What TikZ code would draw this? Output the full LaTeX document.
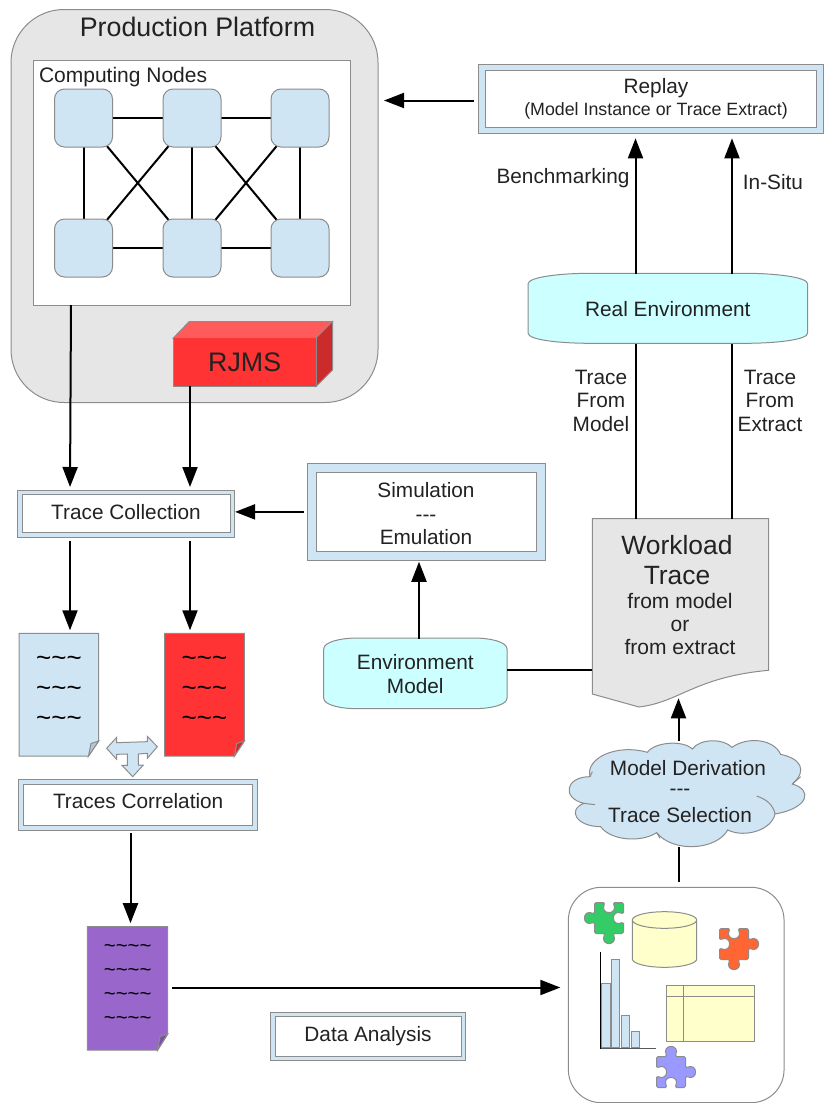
\documentclass[tikz,border=0pt]{standalone}
\usepackage{fontspec}
\setmainfont{Liberation Sans}
\usetikzlibrary{arrows.meta,calc}
\definecolor{lightbl}{HTML}{CFE5F3}
\definecolor{cyanfill}{HTML}{CCFFFF}
\definecolor{greyfill}{HTML}{E6E6E6}
\definecolor{edgegrey}{HTML}{8C8C8C}
\definecolor{redfill}{HTML}{FF3333}
\definecolor{redtop}{HTML}{FF5B5B}
\definecolor{redside}{HTML}{CC2B2B}
\definecolor{purplefill}{HTML}{9966CC}
\definecolor{paleyellow}{HTML}{FFFFCC}
\definecolor{ink}{HTML}{222222}
\definecolor{piecegreen}{HTML}{33CC66}
\definecolor{pieceorange}{HTML}{FF6633}
\definecolor{piecepurple}{HTML}{9999FF}
\pgfdeclarelayer{bg}
\pgfsetlayers{bg,main}
\tikzset{
  box/.style={rectangle,inner sep=0pt,outer sep=0pt,draw=edgegrey,line width=1pt},
  outerframe/.style={box,fill=lightbl},
  innerframe/.style={box,fill=white,text=ink,align=center,font=\fontsize{20.8}{23.5}\selectfont},
  cn/.style={box,fill=lightbl,rounded corners=10pt,minimum width=58pt,minimum height=58pt},
  ghost/.style={rectangle,inner sep=0pt,outer sep=0pt},
  shapeline/.style={draw=edgegrey,line width=1pt},
  label/.style={inner sep=0pt,outer sep=0pt,text=ink,align=center,yshift=-1.4pt,font=\fontsize{20.8}{23.5}\selectfont},
  conn/.style={line width=2pt,draw=black},
  arr/.style={conn,-{Triangle[length=20pt,width=15pt]}},
  tildes/.style={inner sep=0pt,outer sep=0pt,text=black,align=center,yshift=-3pt},
}
\newcommand\tld{\textasciitilde}
\newcommand\puzzlepiece[7]{%
  \begin{scope}[shift={(#1,#2)}]
  \filldraw[shapeline,fill=#3,rounded corners=1.5pt]
    (-14.5,-15.5) -- (-4,-15.5)
    .. controls (-10,{-15.5-(#4)*13}) and (10,{-15.5-(#4)*13}) .. (4,-15.5)
    -- (14.5,-15.5) -- (14.5,-4)
    .. controls ({14.5+(#5)*13},-10) and ({14.5+(#5)*13},10) .. (14.5,4)
    -- (14.5,15.5) -- (4,15.5)
    .. controls (10,{15.5+(#6)*13}) and (-10,{15.5+(#6)*13}) .. (-4,15.5)
    -- (-14.5,15.5) -- (-14.5,4)
    .. controls ({-14.5-(#7)*13},10) and ({-14.5-(#7)*13},-10) .. (-14.5,-4)
    -- cycle;
  \end{scope}}
\begin{document}
\begin{tikzpicture}[x=1pt,y=-1pt]
\useasboundingbox (0,0) rectangle (825,1103);
% column helpers
\coordinate (colAa) at (71,0);
\coordinate (colA) at (70,0);
\coordinate (colB) at (190,0);
\coordinate (colC) at (635.5,0);
\coordinate (colD) at (732,0);
\coordinate (colE) at (419,0);
\coordinate (colF) at (130.5,0);
\coordinate (colG) at (678.5,0);
\coordinate (rowR) at (0,100.5);
\coordinate (rowP) at (0,987.5);
% platform
\begin{pgfonlayer}{bg}
\node[box,fill=greyfill,rounded corners=53pt,minimum width=367pt,minimum height=393pt] (platform) at (194.5,206) {};
\node[box,fill=white,minimum width=317pt,minimum height=245pt] (cnbox) at (191.5,182.5) {};
\end{pgfonlayer}
\node[label,font=\fontsize{26.8}{30}\selectfont] (pptitle) at (197.5,26) {Production Platform};
\node[label,anchor=west,font=\fontsize{21}{24}\selectfont] (cntitle) at (39,76) {Computing Nodes};
\node[cn] (n1) at (83.5,118) {};
\node[cn] (n2) at (192,118) {};
\node[cn] (n3) at (300,118) {};
\node[cn] (n4) at (83.5,248) {};
\node[cn] (n5) at (192,248) {};
\node[cn] (n6) at (300,248) {};
\begin{pgfonlayer}{bg}
\foreach \a/\b in {n1/n2,n2/n3,n4/n5,n5/n6,n1/n4,n2/n5,n3/n6,n1/n5,n2/n4,n2/n6,n3/n5}
  \draw[conn] (\a.center) -- (\b.center);
\end{pgfonlayer}
% RJMS
\filldraw[shapeline,fill=redtop] (173.3,338) -- (189.3,321.5) -- (332.5,321.5) -- (316,338) -- cycle;
\filldraw[shapeline,fill=redside] (316,338) -- (332.5,321.5) -- (332.5,370) -- (316,386.5) -- cycle;
\node[box,fill=redfill,text=ink,minimum width=142.7pt,minimum height=48.5pt,font=\fontsize{26.8}{30}\selectfont] (rjms) at (244.7,362.2) {RJMS};
% Trace collection
\node[outerframe,minimum width=216.5pt,minimum height=47pt] (tcouter) at (125.8,513.5) {};
\node[innerframe,minimum width=208pt,minimum height=37.5pt] (tc) at (126,513.5) {\raisebox{2.5pt}{Trace Collection}};
% Simulation
\node[outerframe,minimum width=237.3pt,minimum height=96.3pt] (simouter) at (426.4,511.9) {};
\node[innerframe,minimum width=219.5pt,minimum height=79pt] (sim) at (426.3,512) {};
\node[label] (simtxt) at (426,512.5) {Simulation\\-{}-{}-\\Emulation};
% Replay
\node[outerframe,minimum width=344.7pt,minimum height=69.3pt] (replayouter) at (650.7,98.7) {};
\node[innerframe,minimum width=331pt,minimum height=57pt] (replay) at (650.5,98.5) {};
\node[label] (replaytxt) at (656,87) {Replay};
\node[label,font=\fontsize{17.8}{20}\selectfont] (replaysub) at (656,109) {(Model Instance or Trace Extract)};
% Real environment
\filldraw[shapeline,fill=cyanfill] (528,284) .. controls (528,277) and (560,273.3) .. (590,273.3) -- (745,273.3) .. controls (775,273.3) and (807.7,277) .. (807.7,284) -- (807.7,333) .. controls (807.7,340) and (775,343.3) .. (745,343.3) -- (590,343.3) .. controls (560,343.3) and (528,340) .. (528,333) -- cycle;
\node[ghost,label,minimum width=279.7pt,minimum height=70pt,yshift=1pt] (realenv) at (667.8,308.3) {Real Environment};
% Environment model
\filldraw[shapeline,fill=cyanfill] (323.7,649) .. controls (323.7,642) and (340,638) .. (358,638) -- (473,638) .. controls (491,638) and (507,642) .. (507,649) -- (507,698) .. controls (507,705) and (491,708.7) .. (473,708.7) -- (358,708.7) .. controls (340,708.7) and (323.7,705) .. (323.7,698) -- cycle;
\node[ghost,label,minimum width=183.3pt,minimum height=70.7pt] (envmodel) at (415.3,672.8) {Environment\\Model};
% Workload
\filldraw[shapeline,fill=greyfill] (592.3,518.7) -- (768.7,518.7) -- (768.7,670.3) .. controls (695,677) and (680,702) .. (639,707) -- (592.3,694) -- cycle;
\node[ghost,minimum width=176.4pt,minimum height=151.6pt] (workload) at (680.5,594.5) {};
\coordinate (workloadtip) at (678.5,698.3);
\node[label,font=\fontsize{26.4}{30.4}\selectfont] (wltitle) at (677,558.5) {Workload\\Trace};
\node[label,font=\fontsize{21}{23}\selectfont] (wlsub) at (680,623) {from model\\or\\from extract};
% Cloud
\begin{scope}[shift={(560,510)},scale=0.33333]
\filldraw[shapeline,fill=lightbl] (90,800) .. controls (75,745) and (170,700) .. (262,727)
  .. controls (285,695) and (370,690) .. (397,717)
  .. controls (420,685) and (490,685) .. (516,712)
  .. controls (560,680) and (640,685) .. (662,733)
  .. controls (720,745) and (745,780) .. (697,822)
  .. controls (760,840) and (745,895) .. (645,912)
  .. controls (635,960) and (555,985) .. (503,960)
  .. controls (470,1020) and (340,1030) .. (290,968)
  .. controls (240,1000) and (150,990) .. (122,950)
  .. controls (50,950) and (20,900) .. (72,880)
  .. controls (5,865) and (15,800) .. (90,800) -- cycle;
\draw[shapeline] (72,880) -- (105,884);
\draw[shapeline] (697,822) -- (722,800);
\draw[shapeline] (590,858) .. controls (620,868) and (640,885) .. (645,912);
\draw[shapeline] (290,968) -- (300,985);
\draw[shapeline] (90,800) -- (97,785);
\end{scope}
\node[ghost,minimum width=239pt,minimum height=106pt] (cloud) at (688,793.5) {};
\node[label] (cloudtxt1) at (688,767) {Model Derivation};
\node[label] (cloudtxt2) at (680,790.5) {-{}-{}-};
\node[label] (cloudtxt3) at (680,814) {Trace Selection};
% Documents
\filldraw[shapeline,fill=lightbl] (19,633.3) -- (98.7,633.3) -- (98.7,741) -- (88.5,756) -- (19,756) -- cycle;
\filldraw[shapeline,fill=lightbl!70!gray] (88.5,756) -- (98.7,741) -- (91,743.5) -- cycle;
\node[ghost,minimum width=79.7pt,minimum height=122.7pt] (doca) at (58.85,694.65) {};
\node[tildes,font=\fontsize{26}{30}\selectfont] (docatxt) at (59,688) {\tld\tld\tld\\\tld\tld\tld\\\tld\tld\tld};
\filldraw[shapeline,fill=redfill] (164.7,633.3) -- (244.3,633.3) -- (244.3,741) -- (234.5,756) -- (164.7,756) -- cycle;
\filldraw[shapeline,fill=redside] (234.5,756) -- (244.3,741) -- (236.7,743.5) -- cycle;
\node[ghost,minimum width=79.6pt,minimum height=122.7pt] (docb) at (204.5,694.65) {};
\node[tildes,font=\fontsize{26}{30}\selectfont] (docbtxt) at (204.5,688) {\tld\tld\tld\\\tld\tld\tld\\\tld\tld\tld};
\filldraw[shapeline,fill=purplefill] (87.3,926.7) -- (167.7,926.7) -- (167.7,1034) -- (157.7,1050) -- (87.3,1050) -- cycle;
\filldraw[shapeline,fill=purplefill!80!black] (157.7,1050) -- (167.7,1034) -- (160,1036.5) -- cycle;
\node[ghost,minimum width=80.4pt,minimum height=123.3pt] (docc) at (127.5,988.35) {};
\node[tildes,font=\fontsize{20.4}{23.7}\selectfont] (docctxt) at (127.7,981.5) {\tld\tld\tld\tld\\\tld\tld\tld\tld\\\tld\tld\tld\tld\\\tld\tld\tld\tld};
% Block arrow
\begin{scope}[shift={(0,620)},scale=0.33333]
\filldraw[shapeline,fill=lightbl] (320,385) -- (350,352) -- (350,368) -- (442,365) -- (442,349) -- (472,380) -- (442,415) -- (442,400) -- (415,402) -- (415,435) -- (430,435) -- (398,470) -- (366,436) -- (382,436) -- (382,402) -- (350,403) -- (350,418) -- cycle;
\end{scope}
% Traces correlation
\node[outerframe,minimum width=238.5pt,minimum height=51pt] (tcoouter) at (138.2,804.5) {};
\node[innerframe,minimum width=228.5pt,minimum height=41pt] (tco) at (138.2,804.5) {\raisebox{7pt}{Traces Correlation}};
% Data analysis
\node[outerframe,minimum width=195pt,minimum height=48.7pt] (daouter) at (368.2,1036.4) {};
\node[innerframe,minimum width=186pt,minimum height=39.7pt] (da) at (368,1036.2) {\raisebox{2pt}{Data Analysis}};
% Analysis box
\node[box,fill=white,rounded corners=33pt,minimum width=215.7pt,minimum height=215.4pt] (analysis) at (676.2,995) {};
\filldraw[shapeline,fill=paleyellow] (632.3,920) -- (632.3,959) arc[start angle=180,end angle=360,x radius=32.2,y radius=-8.3] -- (696.7,920) arc[start angle=0,end angle=180,x radius=32.2,y radius=-8.3] -- cycle;
\draw[shapeline] (632.3,920) arc[start angle=180,end angle=360,x radius=32.2,y radius=-8.3];
\filldraw[shapeline,fill=paleyellow] (666,985) rectangle (754,1041.3);
\draw[shapeline] (666,996) -- (754,996) (683.3,985) -- (683.3,1041.3);
\foreach \xa/\xb/\yt in {601.5/610/983,611/619.7/959.3,621/629.7/1015,631/639.3/1031.3}
  \filldraw[shapeline,fill=lightbl] (\xa,\yt) rectangle (\xb,1047.5);
\draw[line width=1.2pt,draw=black] (600.7,951.7) -- (600.7,1048.5);
\draw[line width=1.5pt,draw=black!65] (600.7,1048.7) -- (656,1048.7);
\puzzlepiece{609}{918}{piecegreen}{-1}{-1}{1}{1}
\puzzlepiece{734}{944}{pieceorange}{-1}{1}{1}{-1}
\puzzlepiece{671}{1072}{piecepurple}{1}{1}{-1}{-1}
% Edge labels
\node[label] (benchlbl) at (563,176.7) {Benchmarking};
\node[label] (insitulbl) at (773,180.5) {In-Situ};
\node[label] (tfm) at (601,399.5) {Trace\\From\\Model};
\node[label] (tfe) at (770,399.5) {Trace\\From\\Extract};
% Connectors
\draw[arr,shorten >=3pt] (cnbox.south -| colAa) -- (tcouter.north -| colA);
\draw[arr,shorten >=3pt] (rjms.south -| colB) -- (tcouter.north -| colB);
\draw[arr,shorten <=4pt,shorten >=3pt] (tcouter.south -| colA) -- (doca.north -| colA);
\draw[arr,shorten <=4pt,shorten >=3pt] (tcouter.south -| colB) -- (docb.north -| colB);
\draw[arr,shorten <=4pt,shorten >=1pt] (simouter.west) -- (tcouter.east |- simouter.west);
\draw[arr,shorten >=1.7pt] (envmodel.north -| colE) -- (simouter.south -| colE);
\draw[conn] (envmodel.east |- workload.south) -- (workload.south west);
\draw[arr] (realenv.north -| colC) -- ($(replayouter.south -| colC)+(0,5)$);
\draw[arr] (realenv.north -| colD) -- ($(replayouter.south -| colD)+(0,5)$);
\draw[conn] (workload.north -| colC) -- (realenv.south -| colC);
\draw[conn] (workload.north -| colD) -- (realenv.south -| colD);
\draw[arr,shorten <=4.3pt,shorten >=6pt] (replayouter.west |- rowR) -- (platform.east |- rowR);
\draw[arr] (cloud.north -| colG) -- (workloadtip);
\draw[conn,shorten >=5pt] (cloud.south -| colG) -- (analysis.north -| colG);
\draw[arr,shorten <=3pt,shorten >=3.5pt] (tcoouter.south -| colF) -- (docc.north -| colF);
\draw[arr,shorten <=4.5pt,shorten >=8pt] (docc.east |- rowP) -- (analysis.west |- rowP);
\end{tikzpicture}
\end{document}
